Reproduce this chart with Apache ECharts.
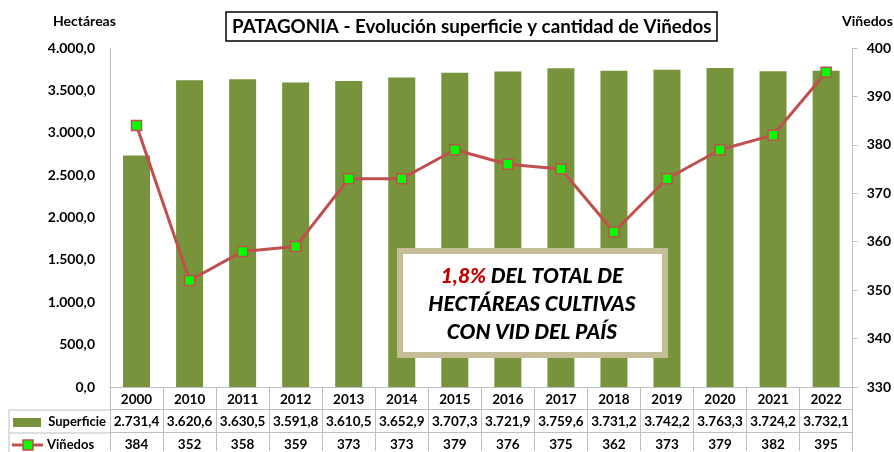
<!DOCTYPE html>
<html>
<head>
<meta charset="utf-8">
<script src="https://cdn.jsdelivr.net/npm/echarts@6/dist/echarts.min.js"></script>
<style>
  html, body { margin: 0; padding: 0; background: #fff; }
  #chart { width: 894px; height: 452px; }
</style>
</head>
<body>
<div id="chart"></div>
<script>
// datos
const years = ['2000', '2010', '2011', '2012', '2013', '2014', '2015', '2016', '2017', '2018', '2019', '2020', '2021', '2022']
const superficie = [2731.4, 3620.6, 3630.5, 3591.8, 3610.5, 3652.9, 3707.3, 3721.9, 3759.6, 3731.2, 3742.2, 3763.3, 3724.2, 3732.1]
const vinedos = [384, 352, 358, 359, 373, 373, 379, 376, 375, 362, 373, 379, 382, 395]

const FONT = 'Lato, "Open Sans", sans-serif'
const GREEN = '#77933C'
const RED = '#C0504D'
const GRID_LINE = '#BFBFBF'

// formato 2.731,4
function fmt (v) {
  const parts = v.toFixed(1).split('.')
  return parts[0].replace(/\B(?=(\d{3})+(?!\d))/g, '.') + ',' + parts[1]
}

const chart = echarts.init(document.getElementById('chart'))

const labelStyle = { fontFamily: FONT, fontWeight: 'bold', fontSize: 14, color: '#000' }
const tableStyle = { fontFamily: FONT, fontWeight: 'bold', fontSize: 13.5, color: '#000', interval: 0, hideOverlap: false }

const option = {
  animation: false,
  title: {
    text: 'PATAGONIA - Evolución superficie y cantidad de Viñedos',
    left: 226,
    top: 12,
    padding: [5, 6],
    borderColor: '#000',
    borderWidth: 1.5,
    textStyle: { fontFamily: FONT, fontWeight: 'bold', fontSize: 18.8, color: '#000' }
  },
  grid: { left: 110, right: 41, top: 48, bottom: 64 },
  xAxis: [
    {
      type: 'category',
      data: years,
      axisLine: { lineStyle: { color: GRID_LINE } },
      axisTick: { show: true, length: 64, lineStyle: { color: GRID_LINE } },
      axisLabel: Object.assign({ margin: 6 }, tableStyle)
    },
    {
      type: 'category',
      data: superficie.map(fmt),
      position: 'bottom',
      offset: 22,
      axisLine: { lineStyle: { color: GRID_LINE } },
      axisTick: { show: false },
      axisLabel: Object.assign({ margin: 6 }, tableStyle)
    },
    {
      type: 'category',
      data: vinedos.map(String),
      position: 'bottom',
      offset: 45,
      axisLine: { lineStyle: { color: GRID_LINE } },
      axisTick: { show: false },
      axisLabel: Object.assign({ margin: 6 }, tableStyle)
    }
  ],
  yAxis: [
    {
      type: 'value',
      min: 0,
      max: 4000,
      interval: 500,
      splitLine: { show: false },
      axisLine: { show: true, lineStyle: { color: GRID_LINE } },
      axisTick: { show: false },
      axisLabel: Object.assign({ margin: 15, formatter: v => fmt(v) }, labelStyle)
    },
    {
      type: 'value',
      min: 330,
      max: 400,
      interval: 10,
      position: 'right',
      splitLine: { show: false },
      axisLine: { show: true, lineStyle: { color: GRID_LINE } },
      axisTick: { show: true, length: 5, lineStyle: { color: GRID_LINE } },
      axisLabel: Object.assign({ margin: 14 }, labelStyle)
    }
  ],
  series: [
    {
      name: 'Superficie',
      type: 'bar',
      data: superficie,
      barWidth: 27,
      itemStyle: { color: GREEN }
    },
    {
      name: 'Viñedos',
      type: 'line',
      yAxisIndex: 1,
      data: vinedos,
      symbol: 'rect',
      symbolSize: 10,
      lineStyle: { color: RED, width: 3 },
      itemStyle: { color: '#00FF00', borderColor: RED, borderWidth: 1.5 }
    }
  ],
  graphic: [
    // nombres de ejes
    { type: 'text', left: 53, top: 14, style: { text: 'Hectáreas', font: 'bold 14px ' + FONT, fill: '#000' } },
    { type: 'text', left: 842, top: 14, style: { text: 'Viñedos', font: 'bold 14px ' + FONT, fill: '#000' } },
    // tabla de datos: columna de etiquetas
    { type: 'line', shape: { x1: 9, y1: 410, x2: 111, y2: 410 }, style: { stroke: GRID_LINE, lineWidth: 1 } },
    { type: 'line', shape: { x1: 9, y1: 433, x2: 111, y2: 433 }, style: { stroke: GRID_LINE, lineWidth: 1 } },
    { type: 'line', shape: { x1: 9, y1: 410, x2: 9, y2: 452 }, style: { stroke: GRID_LINE, lineWidth: 1 } },
    { type: 'rect', shape: { x: 13, y: 418, width: 28, height: 9 }, style: { fill: GREEN } },
    { type: 'text', x: 106, y: 422, style: { text: 'Superficie', font: 'bold 13px ' + FONT, fill: '#000', align: 'right', verticalAlign: 'middle' } },
    { type: 'line', shape: { x1: 12, y1: 445, x2: 43, y2: 445 }, style: { stroke: RED, lineWidth: 3 } },
    { type: 'rect', shape: { x: 23, y: 440, width: 10, height: 10 }, style: { fill: '#00FF00', stroke: RED, lineWidth: 1.5 } },
    { type: 'text', x: 47, y: 445, style: { text: 'Viñedos', font: 'bold 13px ' + FONT, fill: '#000', verticalAlign: 'middle' } },
    // recuadro de nota
    {
      type: 'rect',
      shape: { x: 400, y: 251, width: 265, height: 104 },
      style: { fill: '#fff', stroke: '#C4BD97', lineWidth: 6 },
      z: 10
    },
    {
      type: 'text',
      x: 532,
      y: 304,
      z: 11,
      style: {
        text: '{r|1,8%} DEL TOTAL DE\nHECTÁREAS CULTIVAS\nCON VID DEL PAÍS',
        font: 'italic 900 21px ' + FONT,
        fill: '#000',
        align: 'center',
        verticalAlign: 'middle',
        lineHeight: 28,
        rich: {
          r: { fill: '#C00000', font: 'italic 900 21px ' + FONT, lineHeight: 28 }
        }
      }
    }
  ]
}

chart.setOption(option)
</script>
</body>
</html>
